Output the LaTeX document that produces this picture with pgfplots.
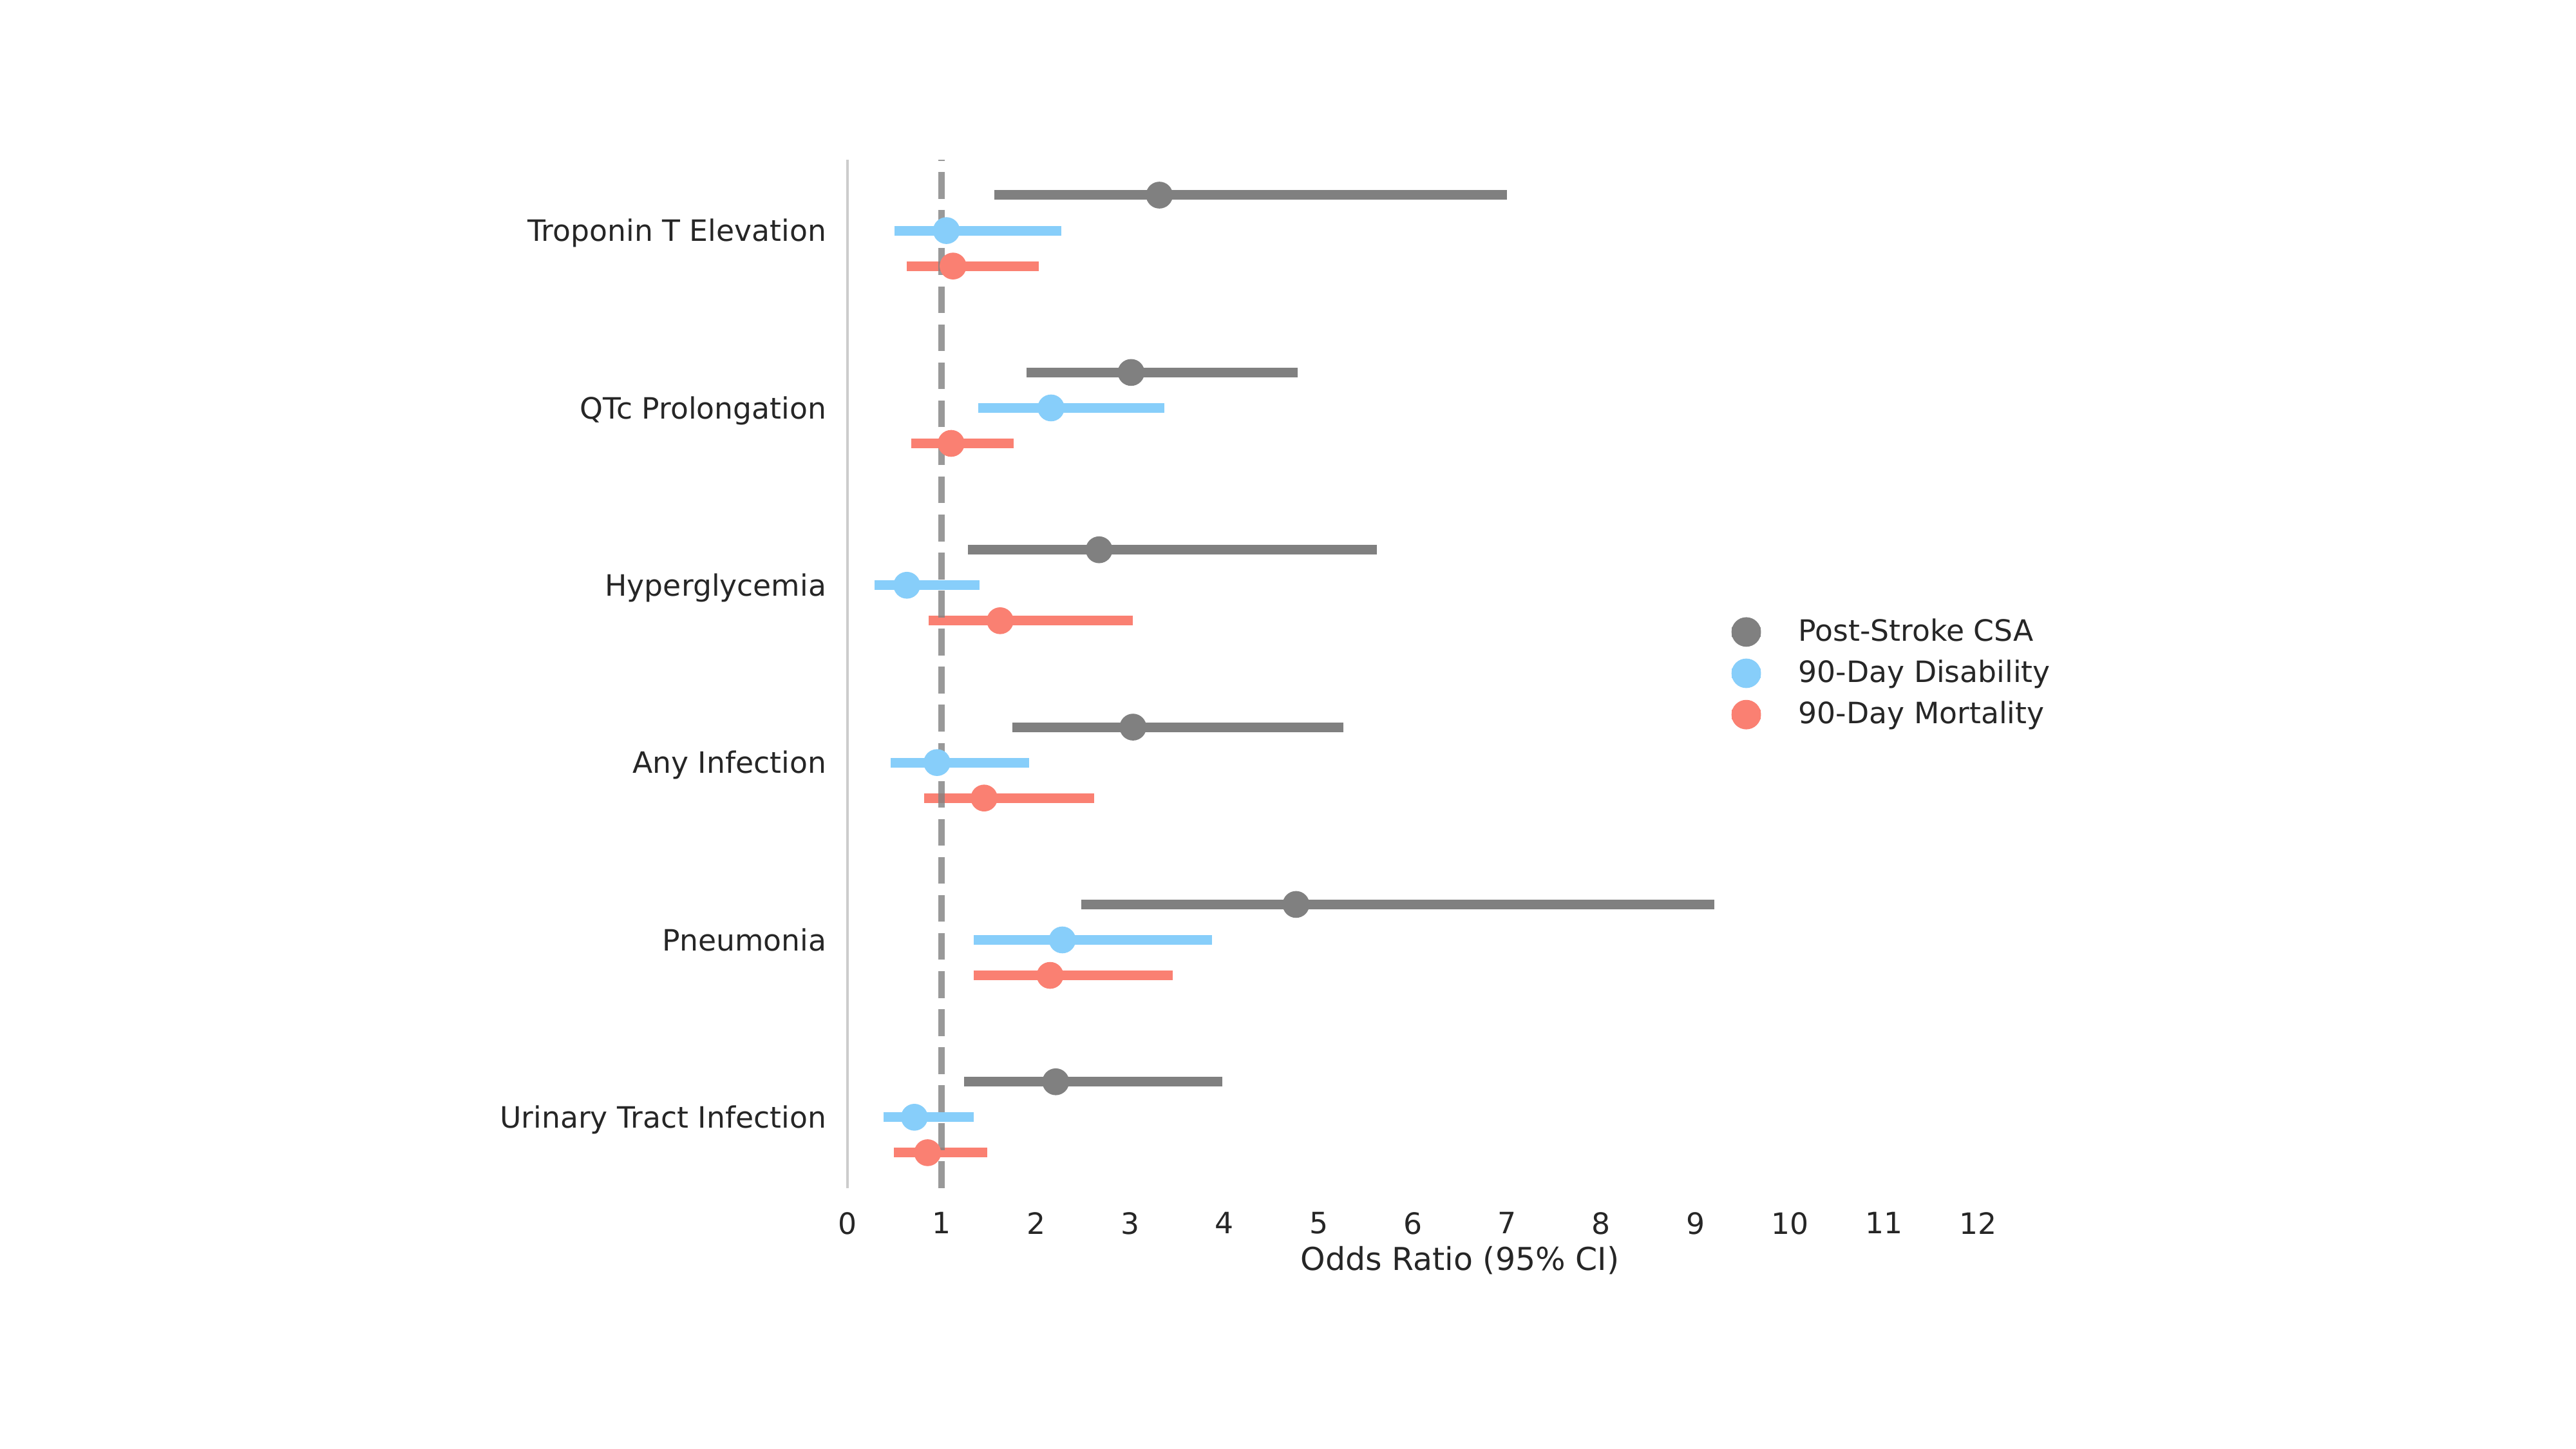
\documentclass[border=0pt]{standalone}
\usepackage{fontspec}
\setmainfont{DejaVu Sans}
\usepackage{pgfplots}
\usepackage{pgfplotstable}
\pgfplotsset{compat=1.18}

\definecolor{csagray}{HTML}{808080}
\definecolor{disblue}{HTML}{87CEFA}
\definecolor{morred}{HTML}{FA8072}
\definecolor{spine}{HTML}{CCCCCC}
\definecolor{txt}{HTML}{262626}

% pos: 5 = Troponin T Elevation ... 0 = Urinary Tract Infection
% g = Post-Stroke CSA, b = 90-Day Disability, r = 90-Day Mortality (OR, lower, upper)
\pgfplotstableread{
pos g    glo  ghi  b    blo  bhi  r    rlo  rhi
5   3.31 1.56 7.00 1.05 0.50 2.27 1.12 0.63 2.03
4   3.01 1.90 4.78 2.16 1.39 3.36 1.10 0.68 1.76
3   2.67 1.28 5.62 0.63 0.29 1.40 1.62 0.86 3.03
2   3.03 1.75 5.26 0.95 0.46 1.93 1.45 0.81 2.62
1   4.76 2.48 9.20 2.28 1.34 3.87 2.15 1.34 3.45
0   2.21 1.24 3.98 0.71 0.38 1.34 0.85 0.49 1.48
}\ortable

\begin{document}
\begin{tikzpicture}[font=\fontsize{11}{13}\selectfont, text=txt]
\useasboundingbox (-315.84bp,-97.2bp) rectangle (644.16bp,442.8bp);
\begin{axis}[
    scale only axis,
    width=456.5bp, height=383.3bp,
    xmin=0, xmax=13, ymin=-0.4, ymax=5.4,
    axis x line*=bottom, axis y line*=left,
    x axis line style={draw=none},
    y axis line style={draw=spine, line width=0.8bp},
    xtick={0,1,2,3,4,5,6,7,8,9,10,11,12},
    ytick={0,1,2,3,4,5},
    yticklabels={Urinary Tract Infection, Pneumonia, Any Infection, Hyperglycemia, QTc Prolongation, Troponin T Elevation},
    major tick length=0pt,
    /pgf/number format/assume math mode=true,
    xticklabel style={anchor=north, inner sep=0pt, yshift=-8.8bp},
    yticklabel style={anchor=base east, inner sep=0pt, xshift=-7.7bp, yshift=-4bp},
    xlabel={Odds Ratio (95\% CI)},
    xlabel style={at={(axis description cs:0.5,0)}, anchor=base, inner sep=0pt,
        yshift=-30.5bp, font=\fontsize{11.8}{14}\selectfont},
    clip=false,
    legend image code/.code={
        \draw[#1, line width=3.6bp] (0bp,0bp) -- (10.8bp,0bp);
        \fill[#1] (5.4bp,0bp) circle[radius=5.3bp];
    },
    legend style={draw=none, fill=none, at={(0.7175,0.5006)}, anchor=west,
        inner sep=0pt, column sep=12.3bp, row sep=4.4bp,
        nodes={inner sep=0pt}, cells={anchor=west}},
]
% Post-Stroke CSA
\addplot[forget plot, only marks, color=csagray, mark=*, mark size=4.8bp,
    mark options={draw=none, fill=csagray},
    error bars/.cd, x dir=both, x explicit, error mark=none,
    error bar style={line width=3.6bp, color=csagray}]
    table[x=g, y expr=\thisrow{pos}+0.2,
          x error plus expr=\thisrow{ghi}-\thisrow{g},
          x error minus expr=\thisrow{g}-\thisrow{glo}] {\ortable};
% 90-Day Disability
\addplot[forget plot, only marks, color=disblue, mark=*, mark size=4.8bp,
    mark options={draw=none, fill=disblue},
    error bars/.cd, x dir=both, x explicit, error mark=none,
    error bar style={line width=3.6bp, color=disblue}]
    table[x=b, y=pos,
          x error plus expr=\thisrow{bhi}-\thisrow{b},
          x error minus expr=\thisrow{b}-\thisrow{blo}] {\ortable};
% 90-Day Mortality
\addplot[forget plot, only marks, color=morred, mark=*, mark size=4.8bp,
    mark options={draw=none, fill=morred},
    error bars/.cd, x dir=both, x explicit, error mark=none,
    error bar style={line width=3.6bp, color=morred}]
    table[x=r, y expr=\thisrow{pos}-0.2,
          x error plus expr=\thisrow{rhi}-\thisrow{r},
          x error minus expr=\thisrow{r}-\thisrow{rlo}] {\ortable};
% reference line at OR = 1
\addplot[forget plot, color=gray, opacity=0.8, line width=2.4bp,
    dash pattern=on 9.96bp off 4.22bp] coordinates {(1,-0.4) (1,5.4)};

\addlegendimage{color=csagray}
\addlegendentry{Post-Stroke CSA}
\addlegendimage{color=disblue}
\addlegendentry{90-Day Disability}
\addlegendimage{color=morred}
\addlegendentry{90-Day Mortality}
\end{axis}
\end{tikzpicture}
\end{document}
